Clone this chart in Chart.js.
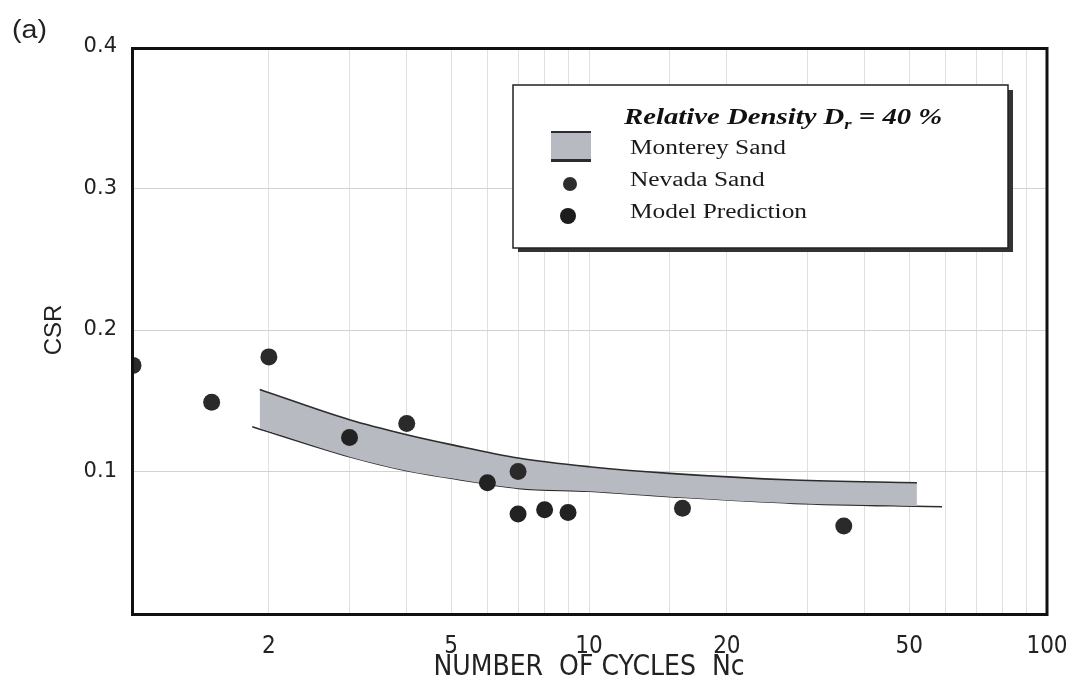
<!DOCTYPE html>
<html>
<head>
<meta charset="utf-8">
<script src="https://cdn.jsdelivr.net/npm/chart.js@4/dist/chart.umd.min.js"></script>
<style>
  html, body { margin: 0; padding: 0; background: #fff; }
  #wrap { width: 1071px; height: 688px; position: relative; }
</style>
</head>
<body>
<div id="wrap"><canvas id="csrChart"></canvas></div>
<script>
"use strict";
// values
var nevadaN   = [1.01, 1.5, 2, 4, 7, 16, 36];
var nevadaCSR = [0.175, 0.149, 0.181, 0.134, 0.100, 0.074, 0.0615];

var modelN   = [3, 6, 7, 8, 9];
var modelCSR = [0.124, 0.092, 0.070, 0.073, 0.071];

// Monterey sand band (upper edge, lower edge of shading, lower curve)
var bandTopN   = [1.91, 3, 4, 5, 7, 10, 15, 28, 52];
var bandTopCSR = [0.158, 0.1366, 0.126, 0.119, 0.1095, 0.1034, 0.0987, 0.094, 0.0921];
var bandBotN   = [1.91, 3, 4, 5, 7, 10, 15, 28, 52];
var bandBotCSR = [0.1305, 0.1105, 0.1006, 0.0952, 0.0881, 0.0860, 0.0822, 0.0775, 0.0757];
var lowerN     = [1.84, 3, 4, 5, 7, 10, 15, 28, 59];
var lowerCSR   = [0.1317, 0.1105, 0.1006, 0.0952, 0.0881, 0.0860, 0.0822, 0.0775, 0.0751];

var xTickLabels = [2, 5, 10, 20, 50, 100];
var yTickLabels = [0.1, 0.2, 0.3, 0.4];

function toPoints(xs, ys) {
  return xs.map(function (x, i) { return { x: x, y: ys[i] }; });
}

var bandColor = '#b7bac1';
var lineColor = '#2c2c2c';

// text drawn a bit wider, like the scanned figure
function wideText(ctx, str, x, y, sx) {
  ctx.save();
  ctx.translate(x, y);
  ctx.scale(sx, 1);
  ctx.fillText(str, 0, 0);
  var w = ctx.measureText(str).width * sx;
  ctx.restore();
  return w;
}

var frame = {
  id: 'frame',
  afterDraw: function (chart) {
    var ctx = chart.ctx, a = chart.chartArea;
    ctx.save();
    // plot border
    ctx.strokeStyle = '#111';
    ctx.lineWidth = 3;
    ctx.strokeRect(a.left + 1.5, a.top + 1.5, a.right - a.left - 1.5, a.bottom - a.top);

    // panel tag
    ctx.fillStyle = '#222';
    ctx.font = '26px "Liberation Sans", Arial, sans-serif';
    ctx.textBaseline = 'alphabetic';
    wideText(ctx, '(a)', 12, 38, 1.1);

    // legend box
    var bx = 513, by = 85, bw = 495, bh = 163;
    ctx.fillStyle = '#333';
    ctx.fillRect(bx + 5, by + bh, bw, 4);
    ctx.fillRect(bx + bw, by + 5, 5, bh - 1);
    ctx.fillStyle = '#fff';
    ctx.fillRect(bx, by, bw, bh);
    ctx.strokeStyle = '#222';
    ctx.lineWidth = 1.5;
    ctx.strokeRect(bx, by, bw, bh);

    // legend title with subscript
    ctx.fillStyle = '#111';
    var tx = 624, ty = 124, sx = 1.25;
    ctx.font = 'italic bold 23px "Liberation Serif", "Times New Roman", serif';
    tx += wideText(ctx, 'Relative Density D', tx, ty, sx);
    ctx.font = 'italic bold 15px "Liberation Serif", "Times New Roman", serif';
    tx += wideText(ctx, 'r', tx, ty + 5, sx);
    ctx.font = 'italic bold 23px "Liberation Serif", "Times New Roman", serif';
    wideText(ctx, ' = 40 %', tx, ty, sx);

    // legend entries
    ctx.font = '20px "Liberation Serif", "Times New Roman", serif';
    ctx.fillStyle = '#1a1a1a';
    wideText(ctx, 'Monterey Sand', 630, 154, 1.27);
    wideText(ctx, 'Nevada Sand', 630, 186, 1.27);
    wideText(ctx, 'Model Prediction', 630, 218, 1.27);

    ctx.fillStyle = bandColor;
    ctx.fillRect(551, 132, 40, 29);
    ctx.fillStyle = lineColor;
    ctx.fillRect(551, 131, 40, 2);
    ctx.fillRect(551, 159, 40, 3);

    ctx.fillStyle = '#2e2e2e';
    ctx.beginPath(); ctx.arc(570, 184, 7, 0, Math.PI * 2); ctx.fill();
    ctx.fillStyle = '#1c1c1c';
    ctx.beginPath(); ctx.arc(568, 216, 8, 0, Math.PI * 2); ctx.fill();
    ctx.restore();
  }
};

var ctx = document.getElementById('csrChart').getContext('2d');
new Chart(ctx, {
  type: 'scatter',
  data: {
    datasets: [
      {
        label: 'Nevada Sand',
        data: toPoints(nevadaN, nevadaCSR),
        pointRadius: 8.5,
        pointBackgroundColor: '#2a2a2a',
        pointBorderWidth: 0,
        clip: 0
      },
      {
        label: 'Model Prediction',
        data: toPoints(modelN, modelCSR),
        pointRadius: 8.5,
        pointBackgroundColor: '#222',
        pointBorderWidth: 0,
        clip: 0
      },
      {
        type: 'line',
        label: 'Monterey Sand',
        data: toPoints(bandTopN, bandTopCSR),
        borderColor: lineColor,
        borderWidth: 1.6,
        backgroundColor: bandColor,
        fill: 3,
        pointRadius: 0,
        cubicInterpolationMode: 'monotone'
      },
      {
        type: 'line',
        label: 'band bottom',
        data: toPoints(bandBotN, bandBotCSR),
        borderWidth: 0,
        borderColor: 'rgba(0,0,0,0)',
        pointRadius: 0,
        fill: false,
        cubicInterpolationMode: 'monotone'
      },
      {
        type: 'line',
        label: 'lower bound',
        data: toPoints(lowerN, lowerCSR),
        borderColor: lineColor,
        borderWidth: 1.6,
        pointRadius: 0,
        fill: false,
        cubicInterpolationMode: 'monotone'
      }
    ]
  },
  options: {
    responsive: true,
    maintainAspectRatio: false,
    animation: false,
    layout: { padding: { left: 0, top: 47, right: 24, bottom: 0 } },
    plugins: {
      legend: { display: false },
      tooltip: { enabled: false }
    },
    scales: {
      x: {
        type: 'logarithmic',
        min: 1,
        max: 100,
        afterFit: function (s) { s.height = 75; s.paddingLeft = 0; s.paddingRight = 0; },
        border: { display: false },
        grid: { color: '#e0e0e0', lineWidth: 1, drawTicks: false },
        ticks: {
          autoSkip: false,
          maxRotation: 0,
          padding: 19,
          color: '#222',
          font: { family: '"Liberation Sans Narrow", "DejaVu Sans Condensed", Arial, sans-serif', size: 24 },
          callback: function (v) { return xTickLabels.indexOf(v) >= 0 ? String(v) : ''; }
        },
        title: {
          display: true,
          text: 'NUMBER  OF CYCLES  Nc',
          color: '#222',
          padding: { top: 0, bottom: 3 },
          font: { family: '"Liberation Sans Narrow", "DejaVu Sans Condensed", Arial, sans-serif', size: 28 }
        }
      },
      y: {
        min: 0,
        max: 0.4,
        afterFit: function (s) { s.width = 131; },
        border: { display: false },
        grid: { color: '#d2d2d2', lineWidth: 1, drawTicks: false },
        ticks: {
          stepSize: 0.1,
          padding: 14,
          color: '#222',
          font: { family: '"DejaVu Sans", Arial, sans-serif', size: 21 },
          callback: function (v) {
            var r = Math.round(v * 10) / 10;
            return yTickLabels.indexOf(r) >= 0 ? r.toFixed(1) : '';
          }
        },
        title: {
          display: true,
          text: 'CSR',
          color: '#222',
          padding: { top: 40, bottom: 0 },
          font: { family: '"Liberation Sans", Arial, sans-serif', size: 24 }
        }
      }
    }
  },
  plugins: [frame]
});
</script>
</body>
</html>
